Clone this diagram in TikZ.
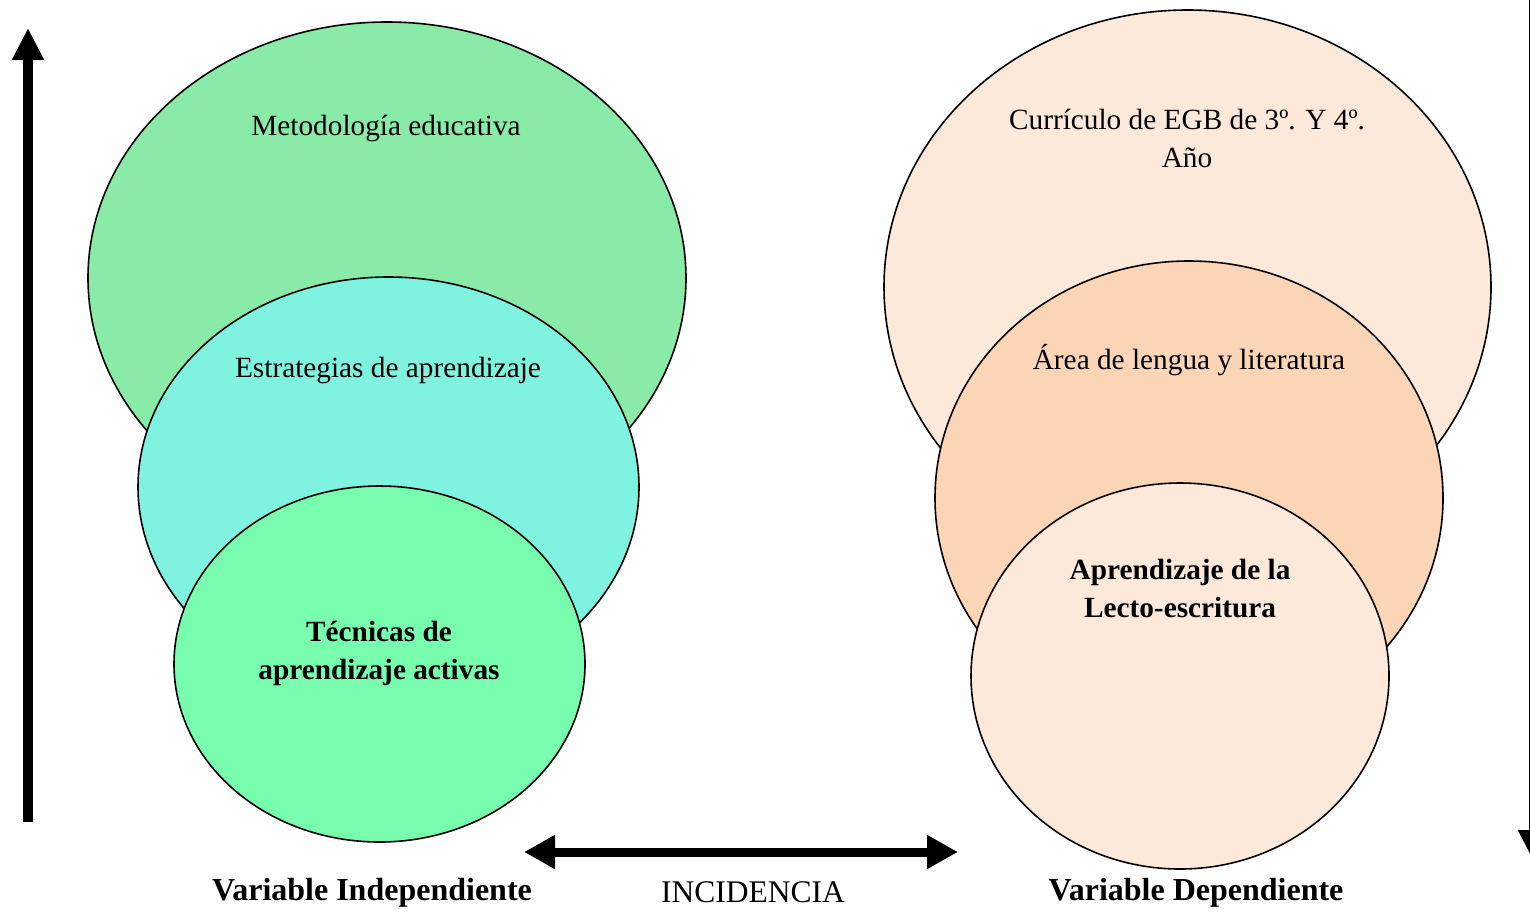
\documentclass[tikz,border=0pt]{standalone}
\usepackage{fontspec}
\setmainfont{Liberation Serif}
\usetikzlibrary{shapes.geometric,arrows.meta}
\definecolor{gA}{HTML}{89EBA7}
\definecolor{cB}{HTML}{80F2E0}
\definecolor{gC}{HTML}{78FDAE}
\definecolor{pA}{HTML}{FDE9DA}
\definecolor{pB}{HTML}{FBD5B6}
\tikzset{
  blob/.style={ellipse, draw=black, line width=1.6pt, inner sep=0pt},
  intext/.style={font=\fontsize{29.3}{38}\selectfont, align=center, inner sep=0pt},
  labtext/.style={font=\fontsize{31.5}{38}\selectfont, inner sep=0pt},
  boldlab/.style={font=\fontsize{32}{38}\selectfont\bfseries, inner sep=0pt},
  bigarrow/.style={line width=10pt, -{Triangle[length=32pt,width=30pt]}},
  dblarrow/.style={line width=9pt, {Triangle[length=31pt,width=32pt]}-{Triangle[length=31pt,width=32pt]}},
}
\begin{document}
\begin{tikzpicture}[x=1pt,y=-1pt]
\useasboundingbox (0,0) rectangle (1530,911);
% left stack
\node[blob, fill=gA, minimum width=598pt, minimum height=512pt] (met) at (387,278) {};
\node[blob, fill=cB, minimum width=501pt, minimum height=420pt] (est) at (388.5,487) {};
\node[blob, fill=gC, minimum width=411pt, minimum height=356pt] (tec) at (379.5,664) {};
% right stack
\node[blob, fill=pA, minimum width=607pt, minimum height=554pt] (cur) at (1187.5,287) {};
\node[blob, fill=pB, minimum width=508pt, minimum height=474pt] (are) at (1189,498) {};
\node[blob, fill=pA, minimum width=418pt, minimum height=386pt] (apr) at (1180,676) {};
% texts
\node[intext] (tmet) at (386,128) {Metodología educativa};
\node[intext] (test) at (388,370) {Estrategias de aprendizaje};
\node[intext] (ttec) at (379,653) {\bfseries Técnicas de\\\bfseries aprendizaje activas};
\node[intext] (tcur) at (1187,138) {Currículo de EGB de 3º. Y 4º.\\Año};
\node[intext] (tare) at (1189,360) {Área de lengua y literatura};
\node[intext] (tapr) at (1180,589) {\bfseries Aprendizaje de la\\\bfseries Lecto-escritura};
% bottom labels
\node[boldlab] (vi) at (372,893) {Variable Independiente};
\node[labtext] (inc) at (753,892) {INCIDENCIA};
\node[boldlab] (vd) at (1196,893) {Variable Dependiente};
% arrows
\coordinate (lb) at (28,822);
\coordinate (lt) at (28,28);
\draw[bigarrow] (lb) -- (lt);
\coordinate (rt) at (1534,-5);
\coordinate (rb) at (1534,862);
\draw[bigarrow] (rt) -- (rb);
\coordinate (hl) at (524,852);
\coordinate (hr) at (958,852);
\draw[dblarrow] (hl) -- (hr);
\end{tikzpicture}
\end{document}
